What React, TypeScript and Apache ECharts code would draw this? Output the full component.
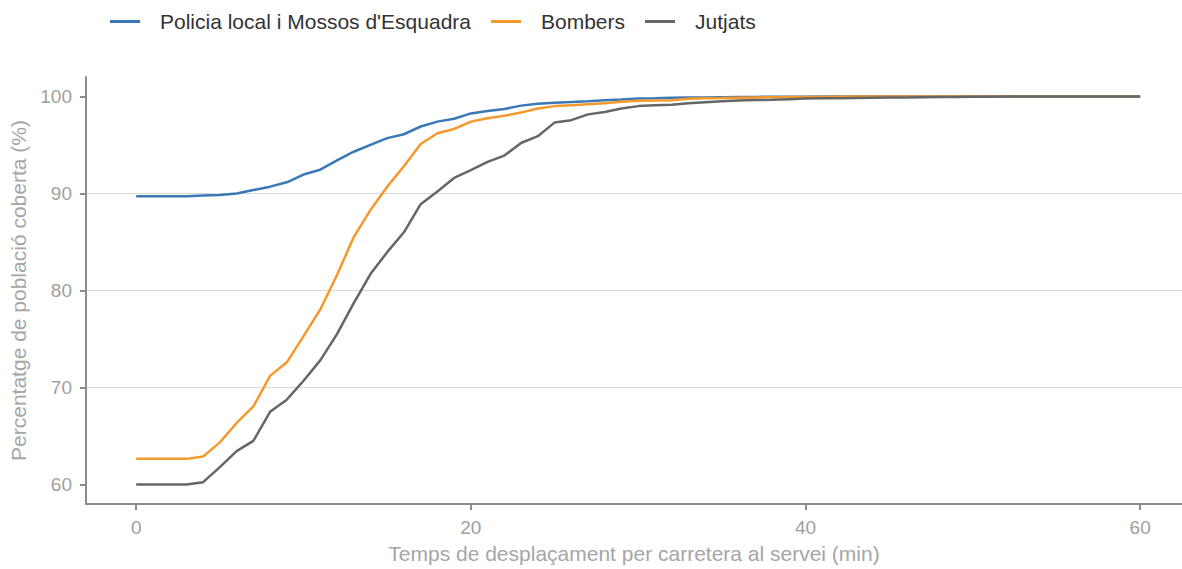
import React, { useEffect, useRef } from "react";
import * as echarts from "echarts";

const minutes = Array.from({ length: 61 }, (_, i) => i);

const policia = [
  89.7, 89.7, 89.7, 89.7, 89.8, 89.85, 90.0, 90.35, 90.7, 91.15,
  91.95, 92.45, 93.4, 94.3, 95.0, 95.7, 96.1, 96.9, 97.4, 97.7,
  98.25, 98.5, 98.7, 99.05, 99.25, 99.35, 99.42, 99.5, 99.6, 99.68,
  99.78, 99.8, 99.85, 99.88, 99.9, 99.92, 99.94, 99.95, 99.96, 99.97,
  99.97, 99.98, 99.98, 99.99, 99.99, 99.99, 100, 100, 100, 100,
  100, 100, 100, 100, 100, 100, 100, 100, 100, 100, 100,
];

const bombers = [
  62.65, 62.65, 62.65, 62.65, 62.9, 64.35, 66.35, 68.05, 71.2, 72.6,
  75.3, 78.05, 81.6, 85.5, 88.3, 90.7, 92.8, 95.1, 96.2, 96.65,
  97.4, 97.75, 98.0, 98.35, 98.75, 99.0, 99.1, 99.2, 99.3, 99.45,
  99.55, 99.57, 99.6, 99.77, 99.8, 99.83, 99.87, 99.9, 99.92, 99.94,
  99.95, 99.96, 99.97, 99.98, 99.98, 99.99, 100, 100, 100, 100,
  100, 100, 100, 100, 100, 100, 100, 100, 100, 100, 100,
];

const jutjats = [
  60, 60, 60, 60, 60.25, 61.8, 63.45, 64.5, 67.5, 68.75,
  70.7, 72.8, 75.5, 78.7, 81.7, 83.95, 86.0, 88.9, 90.2, 91.6,
  92.4, 93.25, 93.9, 95.2, 95.9, 97.3, 97.55, 98.15, 98.4, 98.75,
  99.0, 99.1, 99.15, 99.3, 99.4, 99.5, 99.58, 99.62, 99.66, 99.72,
  99.78, 99.8, 99.82, 99.84, 99.86, 99.88, 99.9, 99.92, 99.94, 99.95,
  99.96, 99.97, 99.98, 99.98, 99.99, 100, 100, 100, 100, 100, 100,
];

const seriesNames = ["Policia local i Mossos d'Esquadra", "Bombers", "Jutjats"];
const seriesColors = ["#3a78b6", "#f6992c", "#666666"];
const xTicks = [0, 20, 40, 60];
const yTicks = [60, 70, 80, 90, 100];

const FONT = "Liberation Sans, Arial, sans-serif";

export default function App() {
  const ref = useRef<HTMLDivElement>(null);
  useEffect(() => {
    if (!ref.current) return;
    const chart = echarts.init(ref.current, undefined, { renderer: "svg" });
    const allData = [policia, bombers, jutjats];
    chart.setOption({
      animation: false,
      backgroundColor: "#ffffff",
      textStyle: { fontFamily: FONT },
      legend: {
        left: 105,
        top: 6,
        icon: "rect",
        itemWidth: 30,
        itemHeight: 3,
        itemGap: 20,
        textStyle: { fontSize: 21, color: "#333333", fontFamily: FONT, padding: [0, 0, 0, 15] },
        data: seriesNames,
      },
      grid: { left: 86, right: 0, top: 77, bottom: 59, containLabel: false },
      xAxis: {
        type: "value",
        min: -3,
        max: 62.5,
        splitNumber: 3,
        name: "Temps de desplaçament per carretera al servei (min)",
        nameLocation: "middle",
        nameGap: 39,
        nameTextStyle: { fontSize: 21, color: "#a6a6a6", fontFamily: FONT },
        axisLine: { show: true, onZero: false, lineStyle: { color: "#8c8c8c", width: 2 } },
        axisTick: { show: true, customValues: xTicks, length: 6, lineStyle: { color: "#8c8c8c", width: 2 } },
        axisLabel: { customValues: xTicks, fontSize: 19, color: "#a0a0a0", margin: 14, fontFamily: FONT },
        splitLine: { show: false },
      },
      yAxis: {
        type: "value",
        min: 58,
        max: 102,
        splitNumber: 4,
        name: "Percentatge de població coberta (%)",
        nameLocation: "middle",
        nameGap: 54,
        nameRotate: 90,
        nameTextStyle: { fontSize: 21, color: "#a6a6a6", fontFamily: FONT },
        axisLine: { show: true, onZero: false, lineStyle: { color: "#8c8c8c", width: 2 } },
        axisTick: { show: true, customValues: yTicks, length: 6, lineStyle: { color: "#8c8c8c", width: 2 } },
        axisLabel: { customValues: yTicks, fontSize: 19, color: "#a0a0a0", margin: 14, fontFamily: FONT },
        splitLine: { show: true, showMinLine: false, showMaxLine: false, lineStyle: { color: "#d9d9d9", width: 1.2 } },
      },
      series: seriesNames.map((name, i) => ({
        name,
        type: "line",
        showSymbol: false,
        symbol: "none",
        data: minutes.map((m, j) => [m, allData[i][j]]),
        lineStyle: { color: seriesColors[i], width: 2.5 },
        itemStyle: { color: seriesColors[i] },
      })),
    });
    return () => chart.dispose();
  }, []);
  return (
    <div
      ref={ref}
      style={{ position: "fixed", left: 0, top: 0, width: 1182, height: 569 }}
    />
  );
}
